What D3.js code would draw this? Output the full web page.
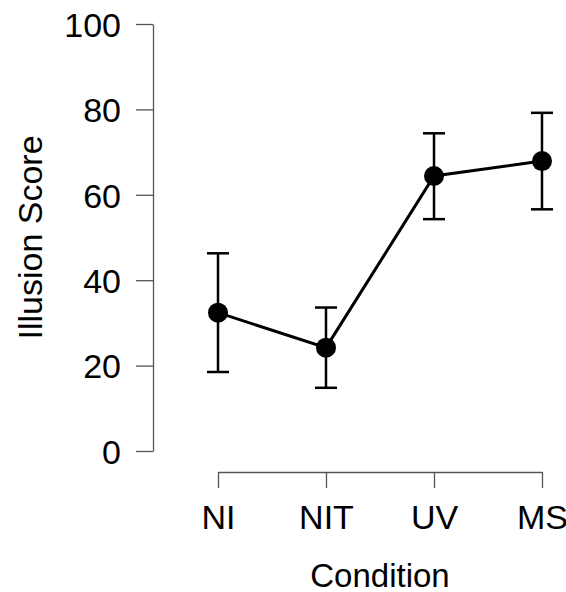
<!DOCTYPE html>
<html lang="en">
<head>
<meta charset="UTF-8">
<title>Illusion Score by Condition</title>
<script src="https://d3js.org/d3.v7.min.js"></script>
<style>
  body { margin: 0; background: #fff; }
  svg { display: block; font-family: "Liberation Sans", Arial, sans-serif; }
</style>
</head>
<body>
<div id="chart"></div>
<script>
// data
const conditions = ["NI", "NIT", "UV", "MS"];
const means = [32.4, 24.2, 64.4, 67.9];
const lower = [18.5, 14.8, 54.3, 56.6];
const upper = [46.3, 33.6, 74.4, 79.2];
const yTicks = [0, 20, 40, 60, 80, 100];

const width = 566, height = 592;

const x = d3.scalePoint().domain(conditions).range([218, 542]);
const y = d3.scaleLinear().domain([0, 100]).range([451, 24]);

const svg = d3.select("#chart").append("svg")
  .attr("width", width).attr("height", height);

// y axis
const yAxis = svg.append("g")
  .attr("transform", "translate(153,0)")
  .call(d3.axisLeft(y).tickValues(yTicks).tickSize(17).tickPadding(15).tickSizeOuter(0));
yAxis.select(".domain").attr("stroke", "#555").attr("stroke-width", 1.3);
yAxis.selectAll(".tick line").attr("stroke", "#555").attr("stroke-width", 1.3);
yAxis.selectAll("text").attr("font-size", 34).attr("fill", "#000")
  .attr("font-family", "Liberation Sans, Arial, sans-serif").attr("dy", "0.36em");

// x axis
const xAxis = svg.append("g")
  .attr("transform", "translate(0,472)")
  .call(d3.axisBottom(x).tickSize(16).tickPadding(17).tickSizeOuter(0));
xAxis.select(".domain").attr("stroke", "#555").attr("stroke-width", 1.3);
xAxis.selectAll(".tick line").attr("stroke", "#555").attr("stroke-width", 1.3);
xAxis.selectAll("text").attr("font-size", 34).attr("fill", "#000")
  .attr("font-family", "Liberation Sans, Arial, sans-serif");

// axis titles
svg.append("text")
  .attr("x", 380)
  .attr("y", 587)
  .attr("text-anchor", "middle")
  .attr("font-size", 33)
  .text("Condition");

svg.append("text")
  .attr("transform", `translate(42,${(y(0) + y(100)) / 2}) rotate(-90)`)
  .attr("text-anchor", "middle")
  .attr("font-size", 34)
  .text("Illusion Score");

const rows = conditions.map((c, i) => ({ c, m: means[i], lo: lower[i], hi: upper[i] }));

// error bars
const eb = svg.append("g").attr("stroke", "#000").attr("stroke-width", 2.5);
eb.selectAll(".v").data(rows).join("line")
  .attr("x1", d => x(d.c)).attr("x2", d => x(d.c))
  .attr("y1", d => y(d.lo)).attr("y2", d => y(d.hi));
eb.selectAll(".t").data(rows).join("line")
  .attr("x1", d => x(d.c) - 11).attr("x2", d => x(d.c) + 11)
  .attr("y1", d => y(d.hi)).attr("y2", d => y(d.hi));
eb.selectAll(".b").data(rows).join("line")
  .attr("x1", d => x(d.c) - 11).attr("x2", d => x(d.c) + 11)
  .attr("y1", d => y(d.lo)).attr("y2", d => y(d.lo));

// connecting line
svg.append("path")
  .datum(rows)
  .attr("fill", "none")
  .attr("stroke", "#000")
  .attr("stroke-width", 3)
  .attr("d", d3.line().x(d => x(d.c)).y(d => y(d.m)));

// points
svg.append("g").selectAll("circle").data(rows).join("circle")
  .attr("cx", d => x(d.c)).attr("cy", d => y(d.m))
  .attr("r", 10).attr("fill", "#000");
</script>
</body>
</html>
